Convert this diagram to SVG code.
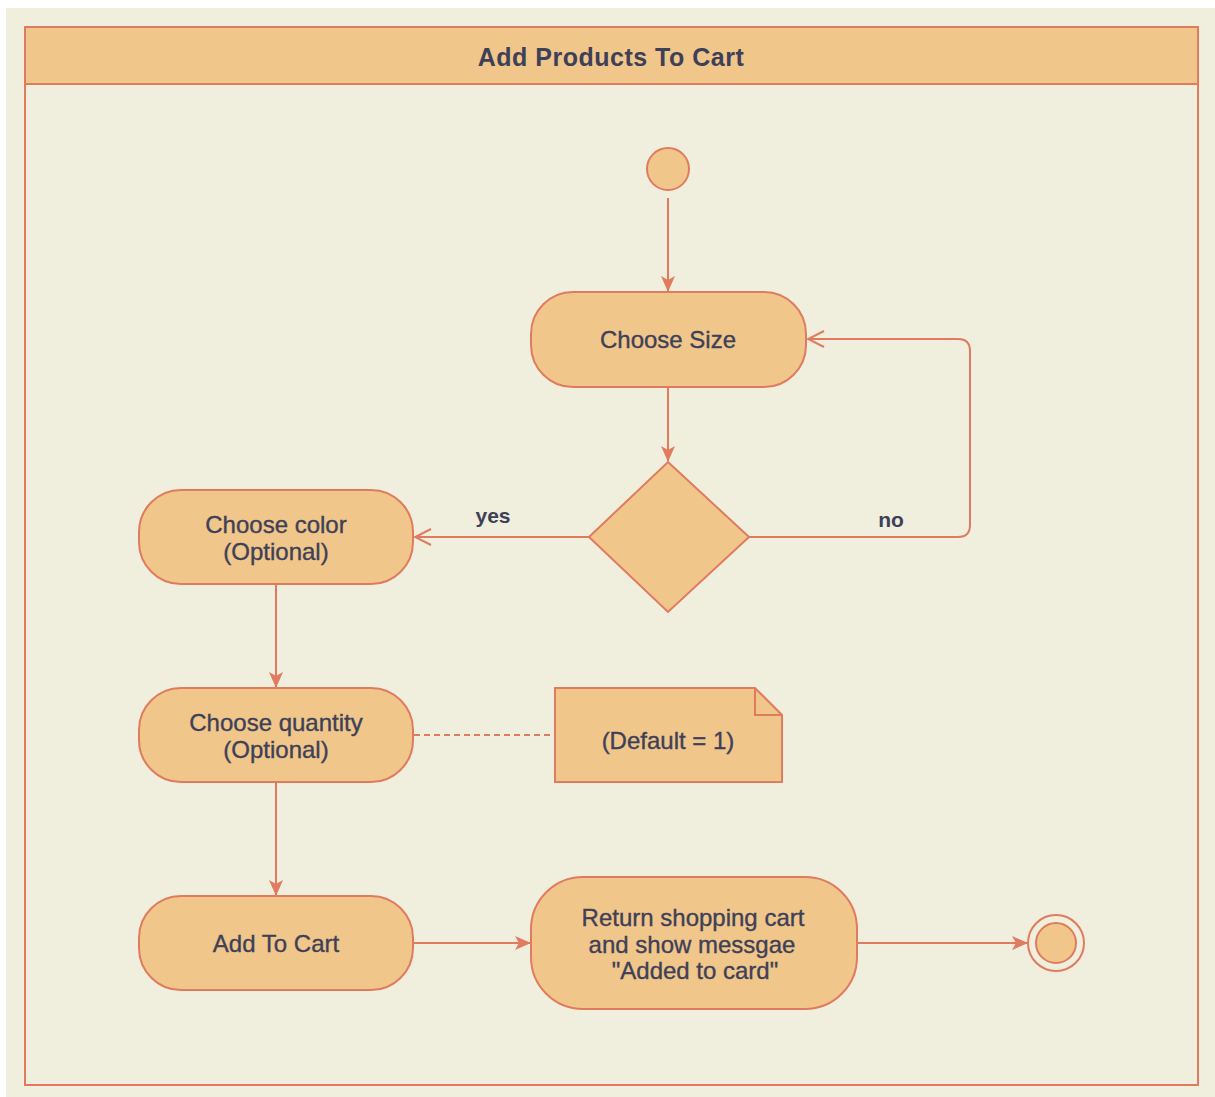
<svg xmlns="http://www.w3.org/2000/svg" width="1215" height="1097" viewBox="0 0 1215 1097">
  <defs>
    <style>
      .node { fill: #F0C68A; stroke: #E07B5F; stroke-width: 2; }
      .edge { fill: none; stroke: #E07B5F; stroke-width: 2; }
      .txt { font-family: "Liberation Sans", Arial, sans-serif; font-size: 24px; fill: #3E4057; text-anchor: middle; stroke: #3E4057; stroke-width: 0.35; }
      .title { font-family: "Liberation Sans", Arial, sans-serif; font-size: 25px; font-weight: bold; fill: #3E4057; text-anchor: middle; letter-spacing: 0.5px; }
      .lbl { font-family: "Liberation Sans", Arial, sans-serif; font-size: 21px; font-weight: bold; fill: #3E4057; text-anchor: middle; }
    </style>
    <marker id="filled" viewBox="0 0 16 14" refX="15" refY="7" markerWidth="16" markerHeight="14" markerUnits="userSpaceOnUse" orient="auto">
      <path d="M0,0 L16,7 L0,14 L4,7 Z" fill="#E07B5F"/>
    </marker>
    <marker id="open" viewBox="0 0 20 20" refX="18" refY="10" markerWidth="20" markerHeight="20" markerUnits="userSpaceOnUse" orient="auto">
      <path d="M2,2 L18,10 L2,18" fill="none" stroke="#E07B5F" stroke-width="2"/>
    </marker>
  </defs>

  <rect x="0" y="0" width="1215" height="1097" fill="#FFFFFF"/>
  <rect x="6" y="8" width="1209" height="1089" fill="#F0EEDC"/>

  <g id="frame">
    <rect x="25" y="27" width="1173" height="1058" fill="#F0EEDC" stroke="#E07B5F" stroke-width="2"/>
    <rect x="25" y="27" width="1173" height="57" fill="#F0C68A" stroke="#E07B5F" stroke-width="2"/>
    <text class="title" x="611" y="66">Add Products To Cart</text>
  </g>

  <g id="start">
    <circle class="node" cx="668" cy="169" r="21"/>
  </g>

  <g id="choose-size">
    <rect class="node" x="531" y="292" width="275" height="95" rx="42" ry="42"/>
    <text class="txt" x="668" y="348">Choose Size</text>
  </g>

  <g id="decision">
    <polygon class="node" points="668,462 749,537 668,612 589,537"/>
  </g>

  <g id="choose-color">
    <rect class="node" x="139" y="490" width="274" height="94" rx="42" ry="42"/>
    <text class="txt" x="276" y="533">Choose color</text>
    <text class="txt" x="276" y="560">(Optional)</text>
  </g>

  <g id="choose-quantity">
    <rect class="node" x="139" y="688" width="274" height="94" rx="42" ry="42"/>
    <text class="txt" x="276" y="731">Choose quantity</text>
    <text class="txt" x="276" y="758">(Optional)</text>
  </g>

  <g id="note">
    <path class="node" d="M555,688 L755,688 L782,715 L782,782 L555,782 Z"/>
    <path class="edge" d="M755,688 L755,715 L782,715"/>
    <text class="txt" x="668" y="749">(Default = 1)</text>
  </g>

  <g id="add-to-cart">
    <rect class="node" x="139" y="896" width="274" height="94" rx="42" ry="42"/>
    <text class="txt" x="276" y="952">Add To Cart</text>
  </g>

  <g id="return-cart">
    <rect class="node" x="531" y="877" width="326" height="132" rx="52" ry="52"/>
    <text class="txt" x="693" y="926">Return shopping cart</text>
    <text class="txt" x="692" y="953">and show messgae</text>
    <text class="txt" x="695" y="979">"Added to card"</text>
  </g>

  <g id="end">
    <circle cx="1056" cy="943" r="28" fill="none" stroke="#E07B5F" stroke-width="2"/>
    <circle class="node" cx="1056" cy="943" r="20"/>
  </g>

  <g id="connectors">
    <line class="edge" x1="668" y1="198" x2="668" y2="291" marker-end="url(#filled)"/>
    <line class="edge" x1="668" y1="387" x2="668" y2="461" marker-end="url(#filled)"/>
    <path class="edge" d="M749,537 L958,537 Q970,537 970,525 L970,351 Q970,339 958,339 L808,339" marker-end="url(#open)"/>
    <line class="edge" x1="589" y1="537" x2="415" y2="537" marker-end="url(#open)"/>
    <line class="edge" x1="276" y1="585" x2="276" y2="687" marker-end="url(#filled)"/>
    <line class="edge" x1="276" y1="783" x2="276" y2="895" marker-end="url(#filled)"/>
    <line class="edge" x1="414" y1="735" x2="554" y2="735" stroke-dasharray="6,4"/>
    <line class="edge" x1="414" y1="943" x2="530" y2="943" marker-end="url(#filled)"/>
    <line class="edge" x1="858" y1="943" x2="1027" y2="943" marker-end="url(#filled)"/>
    <text class="lbl" x="493" y="523">yes</text>
    <text class="lbl" x="891" y="527">no</text>
  </g>
</svg>
